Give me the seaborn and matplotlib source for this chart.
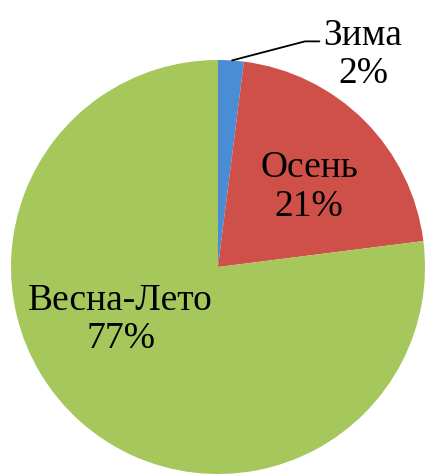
import matplotlib
matplotlib.use("Agg")
import matplotlib.pyplot as plt
import seaborn as sns

# data
seasons = ["Зима", "Осень", "Весна-Лето"]
shares = [2, 21, 77]
colors = ["#4a8dd5", "#cf5049", "#a5c75b"]

sns.set_style("white")
plt.rcParams['font.family'] = ['Liberation Serif', 'DejaVu Serif']
plt.rcParams['text.color'] = 'black'

fig = plt.figure(figsize=(4.25, 4.77), dpi=100)
ax = fig.add_axes([0, 0, 1, 1])
ax.pie(shares, colors=colors, startangle=90, counterclock=False, radius=1,
       wedgeprops=dict(linewidth=0))
ax.set_xlim(-218 / 207, 207 / 207)
ax.set_ylim(-209 / 207, 268 / 207)
ax.set_aspect('equal')
ax.axis('off')

fs = 27
# Зима label with leader line
ax.plot([0.068, 0.42, 0.49], [0.998, 1.09, 1.09], color='black', lw=1.3)
ax.text(0.7, 1.03, f"{seasons[0]}\n{shares[0]}%", ha='center', va='center',
        fontsize=fs, linespacing=1.15)
ax.text(0.44, 0.39, f"{seasons[1]}\n{shares[1]}%", ha='center', va='center',
        fontsize=fs, linespacing=1.15)
ax.text(-0.47, -0.25, f"{seasons[2]}\n{shares[2]}%", ha='center', va='center',
        fontsize=fs, linespacing=1.15)

plt.savefig("out.png", dpi=100)
